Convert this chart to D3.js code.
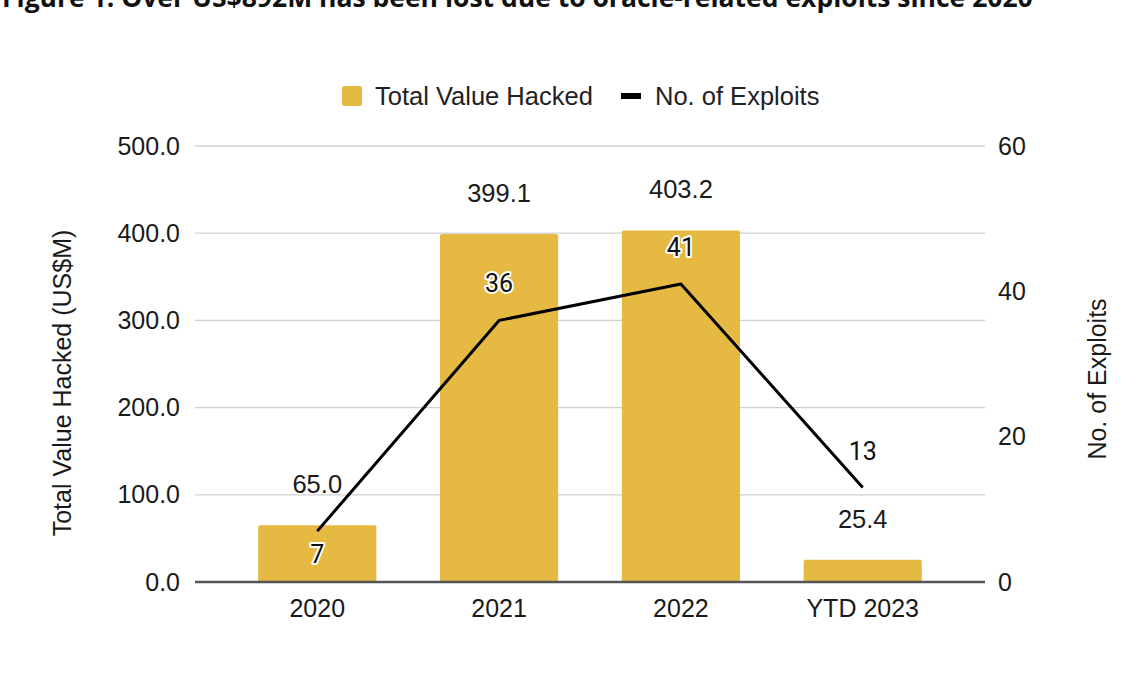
<!DOCTYPE html>
<html><head><meta charset="utf-8">
<script src="https://cdn.jsdelivr.net/npm/d3@7"></script>
<style>
html,body{margin:0;padding:0;background:#fff;}
svg{display:block;}
</style></head>
<body>
<script>
const title = "Figure 1: Over US$892M has been lost due to oracle-related exploits since 2020";
const categories = ["2020", "2021", "2022", "YTD 2023"];
const valueHacked = [65.0, 399.1, 403.2, 25.4];
const exploits = [7, 36, 41, 13];
const leftTicks = [0, 100, 200, 300, 400, 500];
const rightTicks = [0, 20, 40, 60];
const seriesNames = ["Total Value Hacked", "No. of Exploits"];
const axisTitles = ["Total Value Hacked (US$M)", "No. of Exploits"];

const W = 1140, H = 694;
const m = {left: 195, right: 165, top: 146, bottom: 112};
const plotW = W - m.left - m.right, plotH = H - m.top - m.bottom;
const barColor = "#e6b943";
const font = "'Liberation Sans', Arial, sans-serif";

const svg = d3.select("body").append("svg").attr("width", W).attr("height", H);

svg.append("text").attr("x", 2).attr("y", 7)
  .attr("font-family", "'Open Sans', sans-serif").attr("font-weight", 700)
  .attr("font-size", 26.5).attr("fill", "#111").text(title);

const g = svg.append("g").attr("transform", `translate(${m.left},${m.top})`);

const x = d3.scaleBand().domain(categories).range([5, plotW + 5]).paddingInner(0.35).paddingOuter(0.32);
const yL = d3.scaleLinear().domain([0, 500]).range([plotH, 0]);
const yR = d3.scaleLinear().domain([0, 60]).range([plotH, 0]);

// gridlines
g.append("g").selectAll("line").data(leftTicks.filter(d => d > 0)).join("line")
  .attr("x1", 0).attr("x2", plotW + 10).attr("y1", d => yL(d)).attr("y2", d => yL(d))
  .attr("stroke", "#d0d0d0").attr("stroke-width", 1.3);

// left axis
const axL = g.append("g").call(d3.axisLeft(yL).tickValues(leftTicks).tickFormat(d3.format(".1f")).tickSize(0).tickPadding(15));
axL.select(".domain").remove();
axL.selectAll("text").attr("font-family", font).attr("font-size", 25).attr("fill", "#1a1a1a");

// right axis
const axR = g.append("g").attr("transform", `translate(${plotW + 10},0)`)
  .call(d3.axisRight(yR).tickValues(rightTicks).tickFormat(d3.format("d")).tickSize(0).tickPadding(13));
axR.select(".domain").remove();
axR.selectAll("text").attr("font-family", font).attr("font-size", 25).attr("fill", "#1a1a1a");

// bars
g.append("g").selectAll("path").data(categories).join("path")
  .attr("fill", barColor)
  .attr("d", (c, i) => {
    const x0 = x(c), w = x.bandwidth(), y0 = yL(valueHacked[i]), yb = yL(0), r = 2;
    return `M${x0},${yb}V${y0 + r}Q${x0},${y0} ${x0 + r},${y0}H${x0 + w - r}Q${x0 + w},${y0} ${x0 + w},${y0 + r}V${yb}Z`;
  });

// baseline
g.append("line").attr("x1", 0).attr("x2", plotW + 10).attr("y1", yL(0)).attr("y2", yL(0))
  .attr("stroke", "#555").attr("stroke-width", 2.5);

// x axis labels
const axX = g.append("g").attr("transform", `translate(0,${plotH})`)
  .call(d3.axisBottom(x).tickSize(0).tickPadding(17));
axX.select(".domain").remove();
axX.selectAll("text").attr("font-family", font).attr("font-size", 25).attr("fill", "#1a1a1a");

// bar value labels
g.append("g").selectAll("text").data(categories).join("text")
  .attr("x", c => x(c) + x.bandwidth() / 2)
  .attr("y", (c, i) => yL(valueHacked[i]) - 32)
  .attr("text-anchor", "middle").attr("font-family", font).attr("font-size", 25.5).attr("fill", "#1a1a1a")
  .text((c, i) => d3.format(".1f")(valueHacked[i]));

// line
const line = d3.line().x((d, i) => x(categories[i]) + x.bandwidth() / 2).y(d => yR(d));
g.append("path").datum(exploits).attr("d", line).attr("fill", "none")
  .attr("stroke", "#000").attr("stroke-width", 3).attr("stroke-linejoin", "round");

// line labels
g.append("g").selectAll("text").data(exploits).join("text")
  .attr("x", (d, i) => x(categories[i]) + x.bandwidth() / 2)
  .attr("y", (d, i) => i === 0 ? yR(d) + 32 : yR(d) - 28)
  .attr("text-anchor", "middle").attr("font-family", "Roboto, sans-serif").attr("font-size", 25)
  .attr("fill", "#111").attr("stroke", "#fff").attr("stroke-width", 4).attr("paint-order", "stroke")
  .attr("stroke-linejoin", "round")
  .text(d => d);

// axis titles
svg.append("text").attr("transform", `translate(71,${383}) rotate(-90)`)
  .attr("text-anchor", "middle").attr("font-family", font).attr("font-size", 25).attr("fill", "#1a1a1a")
  .text(axisTitles[0]);
svg.append("text").attr("transform", `translate(1106,${379}) rotate(-90)`)
  .attr("text-anchor", "middle").attr("font-family", font).attr("font-size", 25).attr("fill", "#1a1a1a")
  .text(axisTitles[1]);

// legend
const leg = svg.append("g").attr("transform", "translate(342,96)");
leg.append("rect").attr("x", 0).attr("y", -10).attr("width", 20).attr("height", 20).attr("rx", 2).attr("fill", barColor);
leg.append("text").attr("x", 33).attr("y", 9).attr("font-family", font).attr("font-size", 25.5).attr("fill", "#222").text(seriesNames[0]);
leg.append("rect").attr("x", 279).attr("y", -3).attr("width", 20).attr("height", 6).attr("fill", "#000");
leg.append("text").attr("x", 313).attr("y", 9).attr("font-family", font).attr("font-size", 25.5).attr("fill", "#222").text(seriesNames[1]);
</script>
</body></html>
